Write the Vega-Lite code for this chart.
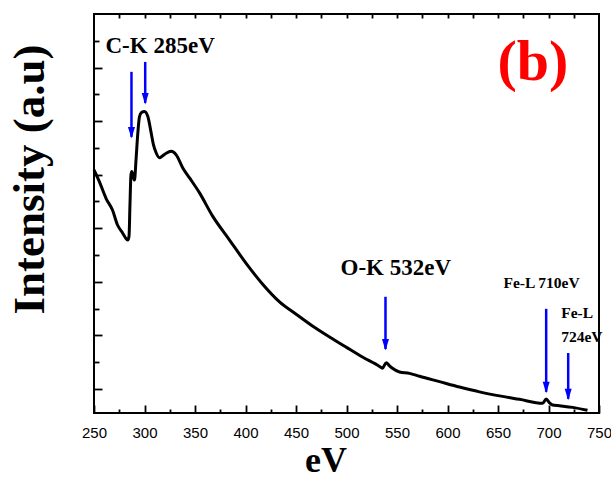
{
  "$schema": "https://vega.github.io/schema/vega-lite/v6.json",
  "width": 505,
  "height": 399,
  "autosize": "none",
  "padding": {"left": 94, "top": 14, "right": 12, "bottom": 66},
  "background": "white",
  "config": {
    "view": {"stroke": "black", "strokeWidth": 2},
    "axis": {"tickColor": "black", "domain": false, "grid": false, "tickWidth": 1.8, "labelColor": "black", "titleColor": "black"}
  },
  "datasets": {
    "spectrum": [
      {"eV": 250.0, "intensity": 8.18}, {"eV": 255.4, "intensity": 7.73}, {"eV": 262.1, "intensity": 7.10},
      {"eV": 268.3, "intensity": 6.68}, {"eV": 273.3, "intensity": 6.12}, {"eV": 278.2, "intensity": 5.83},
      {"eV": 283.5, "intensity": 5.56}, {"eV": 284.7, "intensity": 5.71}, {"eV": 285.6, "intensity": 6.87},
      {"eV": 286.6, "intensity": 7.99}, {"eV": 287.4, "intensity": 8.12}, {"eV": 288.6, "intensity": 7.95},
      {"eV": 290.1, "intensity": 7.80}, {"eV": 291.6, "intensity": 8.55}, {"eV": 293.4, "intensity": 9.56},
      {"eV": 295.0, "intensity": 10.16}, {"eV": 297.0, "intensity": 10.32}, {"eV": 300.0, "intensity": 10.36},
      {"eV": 303.3, "intensity": 10.17}, {"eV": 306.6, "intensity": 9.56}, {"eV": 308.9, "intensity": 9.11},
      {"eV": 311.6, "intensity": 8.81}, {"eV": 314.9, "intensity": 8.63}, {"eV": 317.8, "intensity": 8.70},
      {"eV": 321.5, "intensity": 8.80}, {"eV": 326.4, "intensity": 8.87}, {"eV": 331.4, "intensity": 8.74},
      {"eV": 337.9, "intensity": 8.25}, {"eV": 344.6, "intensity": 7.88}, {"eV": 354.5, "intensity": 7.32},
      {"eV": 367.3, "intensity": 6.46}, {"eV": 384.2, "intensity": 5.56}, {"eV": 401.0, "intensity": 4.67},
      {"eV": 416.8, "intensity": 3.92}, {"eV": 433.7, "intensity": 3.25}, {"eV": 450.5, "intensity": 2.78},
      {"eV": 466.3, "intensity": 2.35}, {"eV": 483.2, "intensity": 1.94}, {"eV": 500.0, "intensity": 1.55},
      {"eV": 515.8, "intensity": 1.19}, {"eV": 532.7, "intensity": 0.84}, {"eV": 535.6, "intensity": 0.77},
      {"eV": 539.3, "intensity": 0.98}, {"eV": 542.6, "intensity": 0.86}, {"eV": 545.5, "intensity": 0.77},
      {"eV": 552.5, "intensity": 0.63}, {"eV": 562.4, "intensity": 0.58}, {"eV": 572.3, "intensity": 0.47},
      {"eV": 592.1, "intensity": 0.27}, {"eV": 611.9, "intensity": 0.07}, {"eV": 631.7, "intensity": -0.11},
      {"eV": 651.5, "intensity": -0.26}, {"eV": 671.3, "intensity": -0.39}, {"eV": 694.1, "intensity": -0.54},
      {"eV": 697.7, "intensity": -0.38}, {"eV": 701.0, "intensity": -0.52}, {"eV": 704.0, "intensity": -0.60},
      {"eV": 710.9, "intensity": -0.63}, {"eV": 723.8, "intensity": -0.69}, {"eV": 738.6, "intensity": -0.80}
    ],
    "arrows": [
      {"eV": 287.1, "top": 11.84, "tip": 9.41},
      {"eV": 300.7, "top": 12.21, "tip": 10.68},
      {"eV": 538.6, "top": 3.44, "tip": 1.49},
      {"eV": 697.7, "top": 2.99, "tip": -0.11},
      {"eV": 719.5, "top": 1.34, "tip": -0.37}
    ],
    "bigLabels": [
      {"eV": 261.4, "intensity": 12.55, "text": "C-K 285eV"},
      {"eV": 494.1, "intensity": 4.26, "text": "O-K 532eV"}
    ],
    "smallLabels": [
      {"eV": 655.4, "intensity": 3.76, "text": "Fe-L 710eV"},
      {"eV": 712.6, "intensity": 2.64, "text": "Fe-L"},
      {"eV": 712.6, "intensity": 1.77, "text": "724eV"}
    ],
    "panel": [
      {"eV": 649.5, "intensity": 11.54, "text": "(b)"}
    ]
  },
  "resolve": {"axis": {"x": "independent", "y": "independent"}},
  "layer": [
    {
      "data": {"name": "spectrum"},
      "mark": {"type": "line", "color": "black", "strokeWidth": 3, "interpolate": "monotone"},
      "encoding": {
        "x": {
          "field": "eV", "type": "quantitative",
          "scale": {"domain": [250, 750], "nice": false, "zero": false},
          "axis": {
            "orient": "bottom",
            "values": [250, 300, 350, 400, 450, 500, 550, 600, 650, 700, 750],
            "tickSize": -8,
            "labelFont": "Liberation Sans", "labelFontSize": 15, "labelPadding": 20,
            "labelFlush": false, "labelOverlap": false, "labelBound": false,
            "title": "eV", "titleFont": "Liberation Serif", "titleFontSize": 36, "titleFontWeight": "bold",
            "titleX": 231.5, "titleY": 58, "titleBaseline": "alphabetic", "titleAnchor": "middle"
          }
        },
        "y": {
          "field": "intensity", "type": "quantitative",
          "scale": {"domain": [-0.9, 14], "nice": false, "zero": false},
          "axis": {
            "orient": "left",
            "values": [0, 2, 4, 6, 8, 10, 12],
            "tickSize": -8, "labels": false,
            "title": "Intensity (a.u)", "titleFont": "Liberation Serif", "titleFontSize": 45, "titleFontWeight": "bold",
            "titleAngle": 270, "titleX": -51, "titleY": 165, "titleBaseline": "alphabetic", "titleAlign": "center"
          }
        }
      }
    },
    {
      "data": {"name": "arrows"},
      "mark": {"type": "rule", "color": "#0000FF", "strokeWidth": 2.5},
      "encoding": {
        "x": {
          "field": "eV", "type": "quantitative",
          "scale": {"domain": [250, 750], "nice": false, "zero": false},
          "axis": {"orient": "bottom", "values": [275, 325, 375, 425, 475, 525, 575, 625, 675, 725], "tickSize": -4, "labels": false, "title": null}
        },
        "y": {
          "field": "top", "type": "quantitative",
          "scale": {"domain": [-0.9, 14], "nice": false, "zero": false},
          "axis": {"orient": "left", "values": [1, 3, 5, 7, 9, 11, 13], "tickSize": -5, "labels": false, "title": null}
        },
        "y2": {"field": "tip"}
      }
    },
    {
      "data": {"name": "arrows"},
      "mark": {"type": "point", "shape": "M -0.7 -2 L 0.7 -2 L 0 0.3 Z", "filled": true, "color": "#0000FF", "opacity": 1, "size": 100, "strokeWidth": 0},
      "encoding": {
        "x": {
          "field": "eV", "type": "quantitative",
          "scale": {"domain": [250, 750], "nice": false, "zero": false},
          "axis": {"orient": "top", "values": [275, 300, 325, 350, 375, 400, 425, 450, 475, 500, 525, 550, 575, 600, 625, 650, 675, 700, 725], "tickSize": -4, "labels": false, "title": null}
        },
        "y": {
          "field": "tip", "type": "quantitative",
          "scale": {"domain": [-0.9, 14], "nice": false, "zero": false},
          "axis": null
        }
      }
    },
    {
      "data": {"name": "bigLabels"},
      "mark": {"type": "text", "font": "Liberation Serif", "fontWeight": "bold", "fontSize": 23, "align": "left", "baseline": "alphabetic", "color": "black"},
      "encoding": {
        "x": {"field": "eV", "type": "quantitative", "scale": {"domain": [250, 750], "nice": false, "zero": false}, "axis": null},
        "y": {"field": "intensity", "type": "quantitative", "scale": {"domain": [-0.9, 14], "nice": false, "zero": false}, "axis": null},
        "text": {"field": "text"}
      }
    },
    {
      "data": {"name": "smallLabels"},
      "mark": {"type": "text", "font": "Liberation Serif", "fontWeight": "bold", "fontSize": 15.5, "align": "left", "baseline": "alphabetic", "color": "black"},
      "encoding": {
        "x": {"field": "eV", "type": "quantitative", "scale": {"domain": [250, 750], "nice": false, "zero": false}, "axis": null},
        "y": {"field": "intensity", "type": "quantitative", "scale": {"domain": [-0.9, 14], "nice": false, "zero": false}, "axis": null},
        "text": {"field": "text"}
      }
    },
    {
      "data": {"name": "panel"},
      "mark": {"type": "text", "font": "Liberation Serif", "fontWeight": "bold", "fontSize": 58, "align": "left", "baseline": "alphabetic", "color": "#FF0000"},
      "encoding": {
        "x": {"field": "eV", "type": "quantitative", "scale": {"domain": [250, 750], "nice": false, "zero": false}, "axis": null},
        "y": {"field": "intensity", "type": "quantitative", "scale": {"domain": [-0.9, 14], "nice": false, "zero": false}, "axis": null},
        "text": {"field": "text"}
      }
    }
  ]
}
